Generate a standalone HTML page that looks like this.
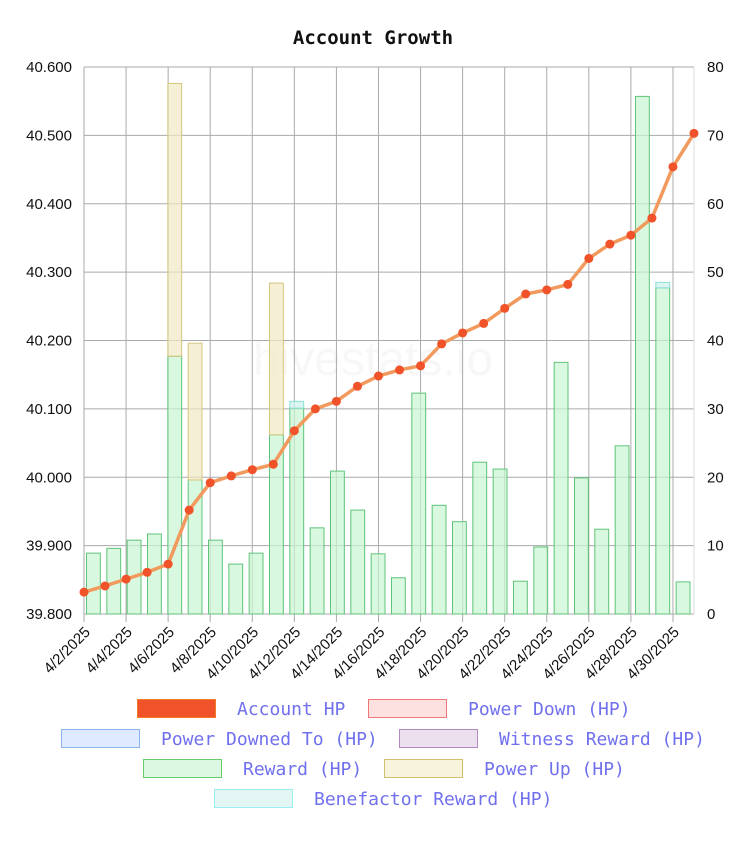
<!DOCTYPE html>
<html><head><meta charset="utf-8"><style>
body{margin:0;background:#fff;}
svg text{font-family:"Liberation Sans",Arial,sans-serif;}
.lg{font-family:"DejaVu Sans Mono","Liberation Mono",monospace;font-size:18px;fill:#7070ee;}
</style></head><body>
<svg id="chart" width="742" height="836" xmlns="http://www.w3.org/2000/svg">
<text x="373" y="44" text-anchor="middle" style="font-family:'DejaVu Sans Mono','Liberation Mono',monospace;font-weight:bold;font-size:19px;fill:#111">Account Growth</text>
<text x="373" y="375" text-anchor="middle" font-size="48" fill="#000" fill-opacity="0.03">hivestats.io</text>
<g id="grid"></g><g id="bars"></g><g id="line"></g><g id="axes"></g><g id="legend"></g>
</svg>
<script>
const dates=["4/2/2025","4/3/2025","4/4/2025","4/5/2025","4/6/2025","4/7/2025","4/8/2025","4/9/2025","4/10/2025","4/11/2025","4/12/2025","4/13/2025","4/14/2025","4/15/2025","4/16/2025","4/17/2025","4/18/2025","4/19/2025","4/20/2025","4/21/2025","4/22/2025","4/23/2025","4/24/2025","4/25/2025","4/26/2025","4/27/2025","4/28/2025","4/29/2025","4/30/2025","5/1/2025"];
const accountHP=[39.832,39.841,39.851,39.861,39.873,39.952,39.992,40.002,40.011,40.019,40.068,40.100,40.111,40.133,40.148,40.157,40.163,40.195,40.211,40.225,40.247,40.268,40.274,40.282,40.320,40.341,40.354,40.379,40.454,40.503];
const reward=[8.9,9.6,10.8,11.7,37.7,19.6,10.8,7.3,8.9,26.2,30.1,12.6,20.9,15.2,8.8,5.3,32.3,15.9,13.5,22.2,21.2,4.8,9.8,36.8,19.9,12.4,24.6,75.7,47.7,4.7];
const powerUp=[0,0,0,0,39.9,20.0,0,0,0,22.2,0,0,0,0,0,0,0,0,0,0,0,0,0,0,0,0,0,0,0,0];
const benefactor=[0,0,0,0,0,0,0,0,0,0,1.0,0,0,0,0,0,0,0,0,0,0,0,0,0,0,0,0,0,0.8,0];
const leftTicks=[39.8,39.9,40.0,40.1,40.2,40.3,40.4,40.5,40.6];
const rightTicks=[0,10,20,30,40,50,60,70,80];
const NS="http://www.w3.org/2000/svg";
const X0=84,X1=694,Y0=614,Y1=67;
const yL=v=>Y0-(v-39.8)/0.8*(Y0-Y1);
const yR=v=>Y0-v/80*(Y0-Y1);
const n=dates.length;
const xP=i=>X0+i*(X1-X0)/(n-1);
const band=(X1-X0)/n;
const xB=i=>X0+i*band+2.5;
function mk(tag,attrs,parent){const e=document.createElementNS(NS,tag);for(const k in attrs)e.setAttribute(k,attrs[k]);document.getElementById(parent).appendChild(e);return e;}
leftTicks.forEach((t,i)=>{
 const l=mk('line',{x1:X0,x2:X1,y1:yL(t),y2:yL(t),stroke:'#aaa','stroke-width':1},'grid');
 
 
 const tx=mk('text',{x:X0-12,y:yL(t)+5,'text-anchor':'end','font-size':15,fill:'#111'},'axes');
 tx.textContent=t.toFixed(3);
 
 
});
rightTicks.forEach(t=>{
 const tx=mk('text',{x:X1+13,y:yR(t)+5,'font-size':15,fill:'#111'},'axes');
 tx.textContent=t;
 
 
});
for(let i=0;i<n;i+=2){
 const l=mk('line',{x1:xP(i),x2:xP(i),y1:Y1,y2:Y0+8,stroke:'#aaa','stroke-width':1},'grid');
 
 
 const tx=mk('text',{transform:`translate(${xP(i)+7},${Y0+19}) rotate(-45)`,'text-anchor':'end','font-size':15,fill:'#111'},'axes');
 tx.textContent=dates[i];
 
 
}
const rl=mk('line',{x1:X1,x2:X1,y1:Y1,y2:Y0,stroke:'#ddd','stroke-width':1},'grid');


for(let i=0;i<n;i++){
 let base=0;
 const parts=[[reward[i],'rgba(200,245,210,0.7)','#5fc47a','reward-bar'],[powerUp[i],'rgba(240,232,195,0.7)','#d5c77e','power-up-bar'],[benefactor[i],'rgba(210,242,238,0.8)','#8de0d8','benefactor-bar']];
 parts.forEach(p=>{
  if(p[0]<=0)return;
  const r=mk('rect',{x:xB(i),y:yR(base+p[0]),width:band-6.5,height:yR(base)-yR(base+p[0]),fill:p[1],stroke:p[2],'stroke-width':1},'bars');
  
  
  base+=p[0];
 });
}
const pl=mk('polyline',{points:accountHP.map((v,i)=>xP(i)+','+yL(v)).join(' '),fill:'none',stroke:'#f29a5e','stroke-width':3.5,'stroke-linejoin':'round'},'line');


accountHP.forEach((v,i)=>{
 const c=mk('circle',{cx:xP(i),cy:yL(v),r:4.5,fill:'#f0522a'},'line');
 
 
});
const legend=[["Account HP",137,709,'#f0522a','#f07a2a'],["Power Down (HP)",368,709,'#fde0e0','#e77'],["Power Downed To (HP)",61,739,'#e0eaff','#8ab4f0'],["Witness Reward (HP)",399,739,'#ece0ee','#b08ac0'],["Reward (HP)",143,769,'#dcf8e2','#6c6'],["Power Up (HP)",384,769,'#f7f3dc','#d0c070'],["Benefactor Reward (HP)",214,799,'#e3f6f3','#9ee']];
legend.forEach(l=>{
 const r=mk('rect',{x:l[1]+0.5,y:l[2]-9.5,width:78,height:18,fill:l[3],stroke:l[4],'stroke-width':1},'legend');
 
 
 const t=mk('text',{x:l[1]+100,y:l[2]+6,class:'lg'},'legend');
 t.textContent=l[0];
 
 
});
</script>
</body></html>
